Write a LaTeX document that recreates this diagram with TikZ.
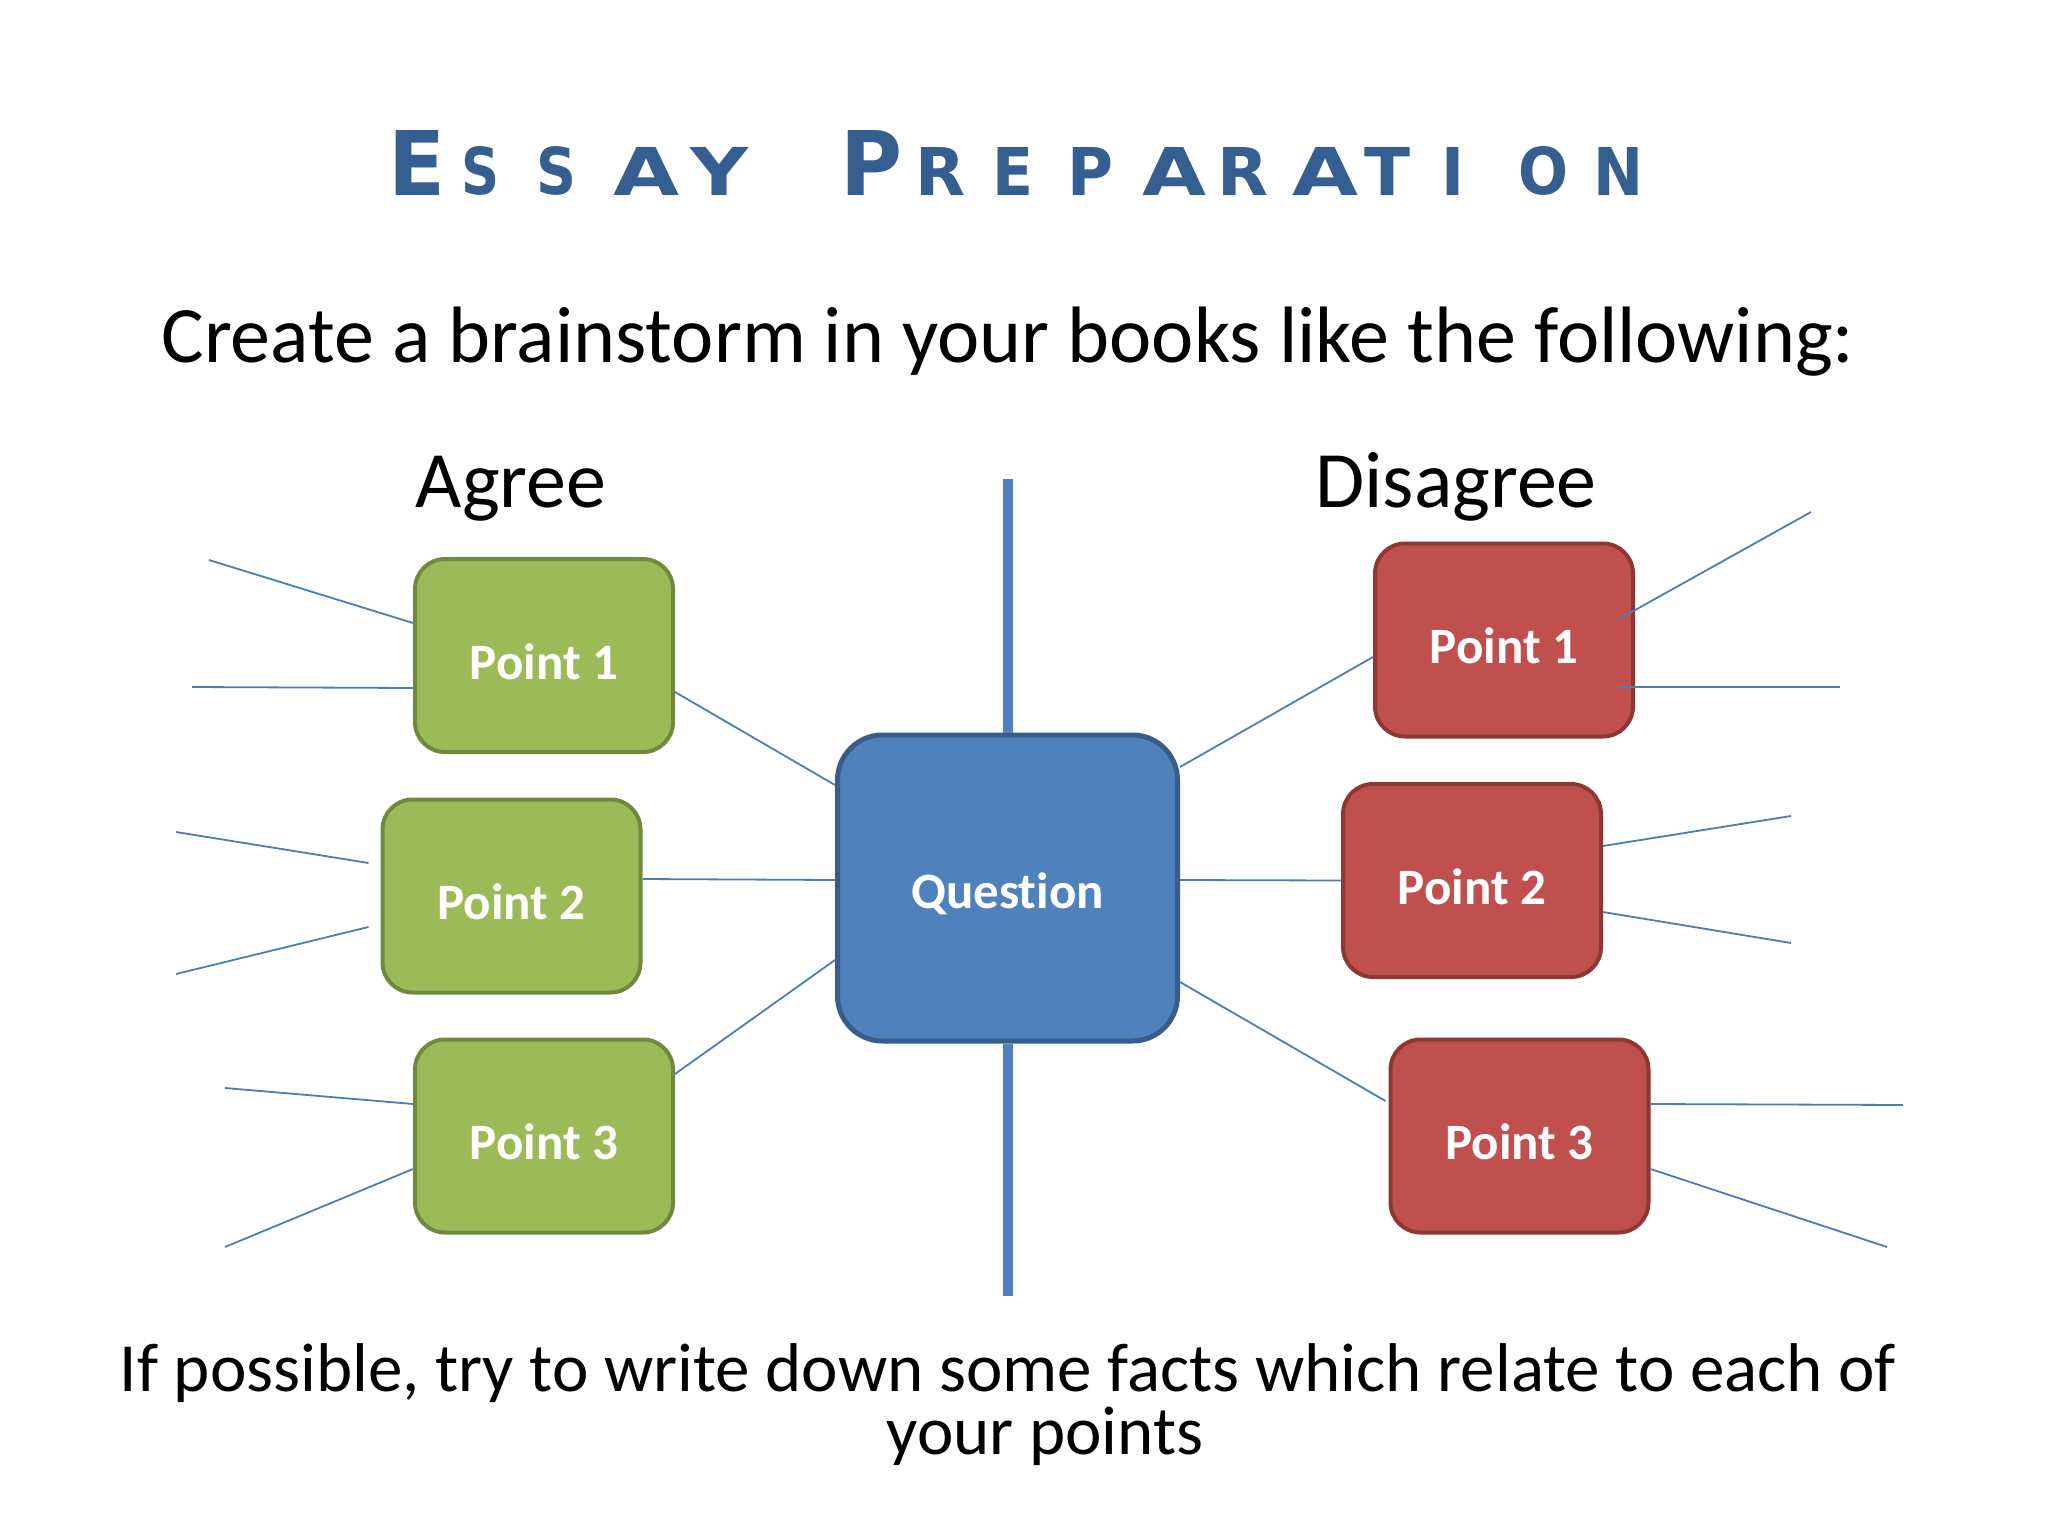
\documentclass[tikz,border=0pt]{standalone}
\usepackage{fontspec}
\usepackage{graphicx}
\setmainfont{Carlito}[Ligatures=NoCommon]
\newfontfamily\titlefont{DejaVu Sans}
\usetikzlibrary{calc}
\definecolor{titleblue}{RGB}{54,95,145}
\definecolor{qfill}{HTML}{4F81BD}
\definecolor{qedge}{HTML}{385D8A}
\definecolor{gfill}{HTML}{9BBB59}
\definecolor{gedge}{HTML}{71893F}
\definecolor{rfill}{HTML}{C0504D}
\definecolor{redge}{HTML}{8C3836}
\definecolor{linkblue}{HTML}{4A7EBB}
\tikzset{
  pointbox/.style={draw, line width=4pt, rounded corners=30pt, minimum width=258pt, minimum height=193pt,
    inner sep=0pt, text=white, font=\fontsize{51}{60}\selectfont\bfseries},
  agreebox/.style={pointbox, fill=gfill, draw=gedge},
  disbox/.style={pointbox, fill=rfill, draw=redge},
  qbox/.style={draw=qedge, fill=qfill, line width=5pt, rounded corners=45pt, minimum width=340pt,
    minimum height=306pt, inner sep=0pt, text=white, font=\fontsize{51}{60}\selectfont\bfseries},
  link/.style={draw=linkblue, line width=1.8pt},
  stem/.style={draw=qfill, line width=10pt},
  heading/.style={anchor=base, font=\fontsize{80}{96}\selectfont},
  bottomtext/.style={anchor=base, inner sep=0pt, font=\fontsize{69}{80}\selectfont},
}
\newcommand{\lowered}[1]{\raisebox{-6pt}[\height][\depth]{#1}}
\begin{document}
\begin{tikzpicture}[x=1pt,y=-1pt]
\useasboundingbox[fill=white] (0,0) rectangle (2048,1536);

% title
\foreach \x/\w/\h/\l [count=\i] in {388/57/65/E, 461/38/48/S, 536/40/48/S, 613/66/48/A, 690/58/48/Y,
  840/62/65/P, 915/50/48/R, 992/41/48/E, 1067/46/48/P, 1142/64/48/A, 1217/51/48/R, 1292/66/48/A,
  1364/46/48/T, 1441/23/48/I, 1518/50/48/O, 1593/50/48/N}
  \node[anchor=south west, inner sep=0pt, text=titleblue] (t\i) at (\x,196)
    {\resizebox{\w pt}{\h pt}{\titlefont\bfseries \l}};

\node[anchor=base, font=\fontsize{80}{96}\selectfont] (sub) at (1008,362)
  {Create a brainstorm in your books like the following:};

\node[heading] (agree) at (511,507) {Agree};
\node[heading] (disagree) at (1456,507) {Disagree};

% stem
\coordinate (vtop) at (1007.5,479);
\coordinate (vbot) at (1007.5,1296);

% boxes
\node[qbox] (q) at (1007.5,888) {\lowered{Question}};
\node[agreebox] (lp1) at (544,655.5) {\lowered{Point 1}};
\node[agreebox] (lp2) at (511.5,896) {\lowered{Point 2}};
\node[agreebox] (lp3) at (544,1136) {\lowered{Point 3}};
\node[disbox] (rp1) at (1504,640) {\lowered{Point 1}};
\node[disbox] (rp2) at (1472,880.5) {\lowered{Point 2}};
\node[disbox] (rp3) at (1519.5,1136) {\lowered{Point 3}};

\draw[stem] (vtop) -- (q.north);
\draw[stem] (q.south) -- (vbot);

% links to question
\draw[link] ($(lp1.east)+(0,36.5)$) -- ($(q.west)+(0,-103)$);
\draw[link] ($(lp2.east)+(0,-17)$) -- ($(q.west)+(0,-8)$);
\draw[link] ($(lp3.east)+(0,-62)$) -- ($(q.west)+(0,72)$);
\draw[link] ($(q.east)+(0,-121)$) -- ($(rp1.west)+(0,17)$);
\draw[link] ($(q.east)+(0,-8)$) -- ($(rp2.west)+(0,0)$);
\draw[link] ($(q.east)+(0,94)$) -- ($(rp3.west)+(-3,-35)$);

% free ends
\coordinate (a1) at (209,560);
\coordinate (a2) at (192,687);
\coordinate (a3) at (176,832);
\coordinate (a4) at (176,974);
\coordinate (a5) at (225,1088);
\coordinate (a6) at (225,1247);
\coordinate (d1) at (1811,512);
\coordinate (d2) at (1840,687);
\coordinate (d3) at (1791,816);
\coordinate (d4) at (1791,943);
\coordinate (d5) at (1903,1105);
\coordinate (d6) at (1887,1247);

\draw[link] (a1) -- ($(lp1.west)+(0,-32.5)$);
\draw[link] (a2) -- ($(lp1.west)+(0,32.5)$);
\draw[link] (a3) -- ($(lp2.west)+(-12,-33)$);
\draw[link] (a4) -- ($(lp2.west)+(-12,31)$);
\draw[link] (a5) -- ($(lp3.west)+(0,-32)$);
\draw[link] (a6) -- ($(lp3.west)+(0,33)$);
\draw[link] ($(rp1.east)+(-16,-21)$) -- (d1);
\draw[link] ($(rp1.east)+(-16,47)$) -- (d2);
\draw[link] ($(rp2.east)+(0,-34.5)$) -- (d3);
\draw[link] ($(rp2.east)+(0,31.5)$) -- (d4);
\draw[link] ($(rp3.east)+(0,-32)$) -- (d5);
\draw[link] ($(rp3.east)+(0,33)$) -- (d6);

% bottom text
\node[bottomtext] (bot1) at (1008,1391)
  {If possible, try to write down some facts which relate to each of};
\node[bottomtext] (bot2) at (1045,1454) {your points};
\end{tikzpicture}
\end{document}
